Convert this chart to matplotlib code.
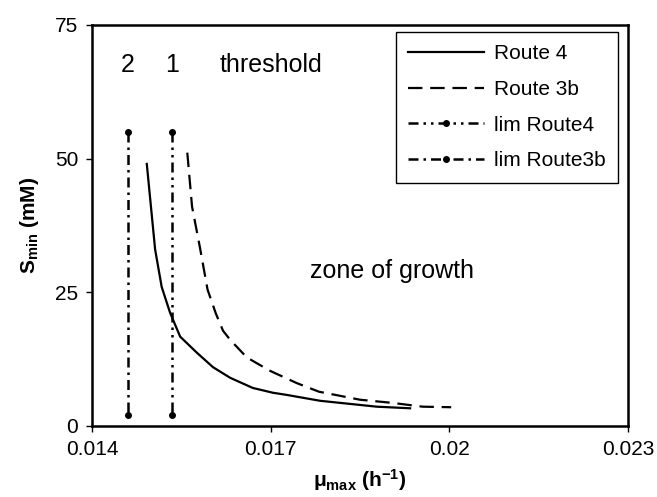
import matplotlib
matplotlib.use("Agg")
import matplotlib.pyplot as plt

plt.rcParams['font.family'] = ['Liberation Sans', 'DejaVu Sans']
plt.rcParams['mathtext.fontset'] = 'custom'
plt.rcParams['mathtext.rm'] = 'Liberation Sans'
plt.rcParams['mathtext.bf'] = 'Liberation Sans:bold'

# curves
route4_mu = [0.01492, 0.01506, 0.01517, 0.01531, 0.01548, 0.01576, 0.01603,
             0.01632, 0.01670, 0.01704, 0.01727, 0.01783, 0.01878, 0.01934]
route4_s = [49, 33, 26, 21.2, 16.7, 13.7, 11, 9, 7.1, 6.2, 5.8, 4.7, 3.6, 3.3]

route3b_mu = [0.01560, 0.01568, 0.01581, 0.01594, 0.01608, 0.01620, 0.01632, 0.01660,
              0.01699, 0.01744, 0.01781, 0.01850, 0.01905, 0.01955, 0.02003]
route3b_s = [51.1, 41, 33.5, 25.5, 21, 17.8, 16.1, 12.8, 10.3, 8, 6.4, 4.9, 4.3, 3.6, 3.5]

lim4_mu = [0.01535, 0.01535]
lim3b_mu = [0.0146, 0.0146]
lim_s = [55, 2]

xticks = [0.014, 0.017, 0.02, 0.023]
xticklabels = ['0.014', '0.017', '0.02', '0.023']
yticks = [0, 25, 50, 75]

fig = plt.figure(figsize=(6.57, 4.97), dpi=100)
ax = fig.add_axes([0.140, 0.143, 0.816, 0.807])

ax.plot(route4_mu, route4_s, color='black', lw=1.6, label='Route 4')
ax.plot(route3b_mu, route3b_s, color='black', lw=1.6, linestyle=(0, (6.5, 3.5)), label='Route 3b')
ax.plot(lim4_mu, lim_s, color='black', lw=1.8, linestyle=(0, (4, 2, 1, 2, 1, 2)),
        marker='o', markersize=4, label='lim Route4')
ax.plot(lim3b_mu, lim_s, color='black', lw=1.8, linestyle=(0, (4, 2, 1, 2)),
        marker='o', markersize=4, label='lim Route3b')

ax.text(lim3b_mu[0], 66.1, '2', fontsize=18, ha='center', va='baseline')
ax.text(lim4_mu[0], 66.1, '1', fontsize=18, ha='center', va='baseline')
ax.text(0.01615, 66.1, 'threshold', fontsize=18, ha='left', va='baseline')
ax.text(0.01766, 27.7, 'zone of growth', fontsize=18, ha='left', va='baseline')

ax.set_xlim(0.014, 0.023)
ax.set_ylim(0, 75)
ax.set_xticks(xticks)
ax.set_xticklabels(xticklabels)
ax.set_yticks(yticks)
ax.tick_params(labelsize=15, direction='out', length=4, width=1, pad=6)
for s in ax.spines.values():
    s.set_linewidth(1.8)

ax.set_xlabel(r'$\mathbf{\mu_{max}}$ $\mathbf{(h^{-1})}$', fontsize=15, labelpad=6)
ax.set_ylabel(r'$\mathbf{S_{min}}$ $\mathbf{(mM)}$', fontsize=15, labelpad=10)

leg = ax.legend(loc='upper right', bbox_to_anchor=(0.981, 0.983), borderaxespad=0,
                fontsize=15, handlelength=3.65, labelspacing=0.8, handletextpad=0.45,
                fancybox=False, framealpha=1, edgecolor='black', borderpad=0.6)
leg.get_frame().set_linewidth(1.0)

fig.savefig('out.png', dpi=100)
